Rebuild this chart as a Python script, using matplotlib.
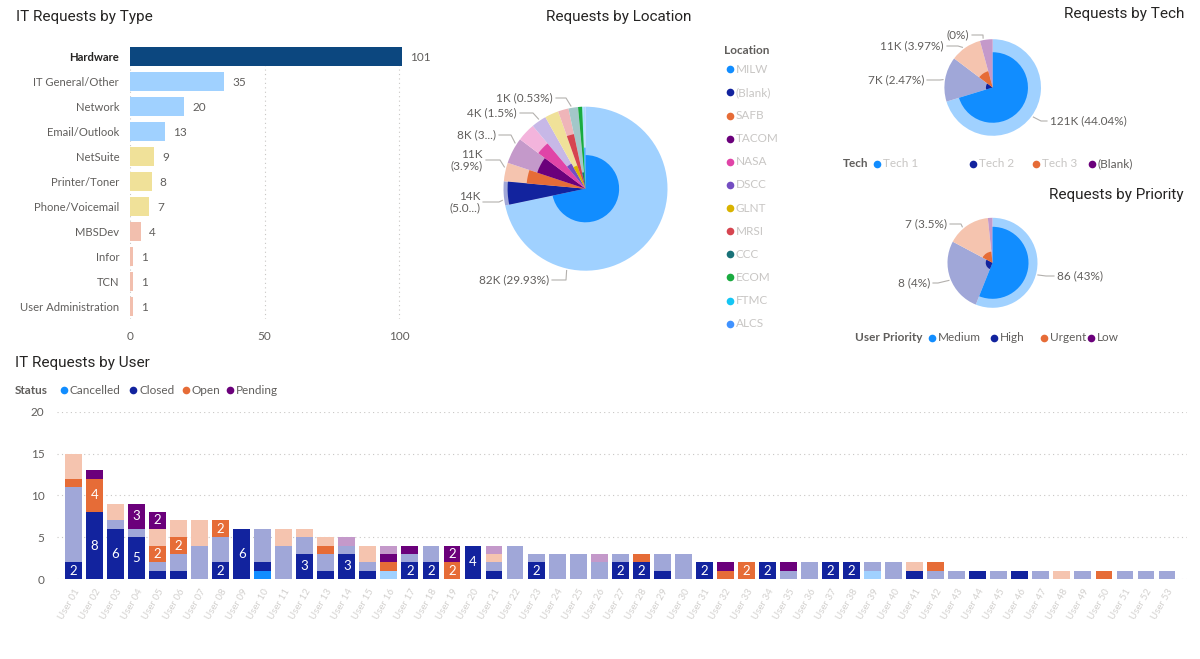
import numpy as np
import matplotlib.pyplot as plt
from matplotlib.patches import Wedge
from matplotlib.colors import to_rgb

plt.rcParams['font.family'] = ['Lato', 'DejaVu Sans']

W, H = 1200, 659

# Power BI default palette, faded = 40% on white (un-highlighted parts)
palette = ["#118DFF", "#12239E", "#E66C37", "#6B007B", "#E044A7", "#744EC2",
           "#D9B300", "#D64550", "#197278", "#1AAB40", "#15C6F4", "#4092FF"]

def fade(c, a=0.4):
    r, g, b = to_rgb(c)
    return (a*r + 1 - a, a*g + 1 - a, a*b + 1 - a)

# ---------------- data ----------------
type_names = ["Hardware", "IT General/Other", "Network", "Email/Outlook", "NetSuite",
              "Printer/Toner", "Phone/Voicemail", "MBSDev", "Infor", "TCN", "User Administration"]
type_counts = [101, 35, 20, 13, 9, 8, 7, 4, 1, 1, 1]
type_colors = ["#0C477F", "#A0D1FF", "#A0D1FF", "#A0D1FF", "#F0E199", "#F0E199",
               "#F0E199", "#F2BFAE", "#F2BFAE", "#F2BFAE", "#F2BFAE"]

loc_names = ["MILW", "(Blank)", "SAFB", "TACOM", "NASA", "DSCC", "GLNT", "MRSI",
             "CCC", "ECOM", "FTMC", "ALCS"]
loc_size = [258.2, 17.0, 13.2, 18.6, 13.0, 10.7, 9.8, 7.5, 6.8, 2.8, 1.2, 1.2]
loc_inner = [0.41, 0.95, 0.72, 0.62, 0.72, 0.35, 0.30, 0.68, 0.20, 1.0, 0.5, 0.5]
loc_labels = ["82K (29.93%)", "14K\n(5.0...)", "11K\n(3.9%)", "8K (3...)", "4K (1.5%)", "1K (0.53%)"]

tech_names = ["Tech 1", "Tech 2", "Tech 3", "(Blank)"]
tech_size = [253.0, 54.0, 37.7, 15.3]
tech_inner = [0.73, 0.14, 0.35, 0.0]
tech_labels = ["121K (44.04%)", "7K (2.47%)", "11K (3.97%)", "(0%)"]

prio_names = ["Medium", "High", "Urgent", "Low"]
prio_size = [201.8, 96.2, 56.0, 6.0]
prio_inner = [0.80, 0.15, 0.25, 0.0]
prio_labels = ["86 (43%)", "8 (4%)", "7 (3.5%)"]

status_names = ["Cancelled", "Closed", "Open", "Pending"]
cancelled_hl   = [0,0,0,0,0,0,0,0,0,1, 0,0,0,0,0,0,0,0,0,0, 0,0,0,0,0,0,0,0,0,0,
                  0,0,0,0,0,0,0,0,0,0, 0,0,0,0,0,0,0,0,0,0, 0,0,0]
cancelled_rest = [0,0,0,0,0,0,0,0,0,0, 0,0,0,0,0,1,0,0,0,0, 0,0,0,0,0,0,0,0,0,0,
                  0,0,0,0,0,0,0,0,1,0, 0,0,0,0,0,0,0,0,0,0, 0,0,0]
closed_hl      = [2,8,6,5,1,1,0,2,6,1, 0,3,1,3,1,0,2,2,0,4, 1,0,2,0,0,0,2,2,1,0,
                  2,0,0,2,0,0,2,2,0,0, 1,0,0,1,0,1,0,0,0,0, 0,0,0]
closed_rest    = [9,0,1,1,1,2,4,3,0,4, 4,2,2,1,1,0,1,2,0,0, 1,4,1,3,3,2,1,0,2,3,
                  0,0,0,0,1,2,0,0,1,2, 0,1,1,0,1,0,1,0,1,0, 1,1,1]
open_hl        = [1,4,0,0,2,2,0,2,0,0, 0,0,1,0,0,1,0,0,2,0, 0,0,0,0,0,0,0,1,0,0,
                  0,1,2,0,0,0,0,0,0,0, 0,1,0,0,0,0,0,0,0,1, 0,0,0]
open_rest      = [3,0,2,0,2,2,3,0,0,0, 2,1,1,0,2,0,0,0,0,0, 1,0,0,0,0,0,0,0,0,0,
                  0,0,0,0,0,0,0,0,0,0, 1,0,0,0,0,0,0,1,0,0, 0,0,0]
pending_hl     = [0,1,0,3,2,0,0,0,0,0, 0,0,0,0,0,1,1,0,2,0, 0,0,0,0,0,0,0,0,0,0,
                  0,1,0,0,1,0,0,0,0,0, 0,0,0,0,0,0,0,0,0,0, 0,0,0]
pending_rest   = [0,0,0,0,0,0,0,0,0,0, 0,0,0,1,0,1,0,0,0,0, 1,0,0,0,0,1,0,0,0,0,
                  0,0,0,0,0,0,0,0,0,0, 0,0,0,0,0,0,0,0,0,0, 0,0,0]
user_names = ["User %02d" % (i + 1) for i in range(len(closed_hl))]

# ---------------- style ----------------
TITLE = "#252423"
LABEL = "#605E5C"
GRID = "#C8C6C4"
LEAD = "#B3B0AD"
BLUR = "#C8C6C4"
TFONT = ['Roboto', 'DejaVu Sans']
DOT = 5.5

fig = plt.figure(figsize=(W / 100, H / 100), dpi=100)

def px_axes(x0, y0, x1, y1):
    return fig.add_axes([x0 / W, 1 - y1 / H, (x1 - x0) / W, (y1 - y0) / H])

# overlay in pixel coordinates for titles, legends, pie labels
ov = px_axes(0, 0, W, H)
ov.set_xlim(0, W)
ov.set_ylim(H, 0)
ov.axis('off')
ov.set_zorder(10)

def legend_item(x, y, name, color, tcolor=LABEL):
    ov.plot(x, y, 'o', ms=DOT, color=color, mew=0)
    ov.text(x + 6, y, name, fontsize=8.5, color=tcolor, va='center')

# ---------------- IT Requests by Type ----------------
ax1 = px_axes(130.3, 43.7, 425.9, 318.8)
y = np.arange(len(type_names))
ax1.barh(y, type_counts, height=0.77, color=type_colors)
for i, v in enumerate(type_counts):
    ax1.text(v + 3, i + 0.05, str(v), va='center', ha='left', fontsize=8.5, color=LABEL)
ax1.set_xlim(0, 110)
ax1.set_ylim(len(type_names) - 0.5, -0.5)
ax1.set_yticks(y, type_names)
ax1.set_xticks([0, 50, 100])
ax1.tick_params(length=0, labelsize=8.5, labelcolor=LABEL)
ax1.tick_params(axis='y', pad=8, labelsize=8.1)
ax1.tick_params(axis='x', pad=9)
ax1.get_yticklabels()[0].set_fontweight('bold')
ax1.get_yticklabels()[0].set_color(TITLE)
ax1.grid(axis='x', linestyle=(0, (1, 3)), color=GRID, lw=0.8)
ax1.set_axisbelow(True)
for s in ax1.spines.values():
    s.set_visible(False)
ov.text(16, 17, "IT Requests by Type", fontsize=11, color=TITLE, va='center', family=TFONT)

# ---------------- pies ----------------
def donut(cx, cy, r, sizes, inner, colors):
    side = 2.6 * r
    ax = px_axes(cx - side / 2, cy - side / 2, cx + side / 2, cy + side / 2)
    wedges, _ = ax.pie(sizes, colors=[fade(c) for c in colors], startangle=90,
                       counterclock=False, wedgeprops=dict(linewidth=0))
    for w, f, c in zip(wedges, inner, colors):
        if f > 0:
            ax.add_patch(Wedge((0, 0), f, w.theta1, w.theta2, color=c, lw=0))
    ax.set_xlim(-1.3, 1.3)
    ax.set_ylim(-1.3, 1.3)
    return ax

def pie_labels(cx, cy, r, labels, layout):
    for txt, (tx, ty, ha, ex, ang) in zip(labels, layout):
        ov.text(tx, ty, txt, ha=ha, va='center', fontsize=8.5, color=LABEL,
                multialignment='right' if ha == 'right' else 'left', linespacing=1.1)
        sx = tx + 3 if ha == 'right' else tx - 3
        a = np.radians(ang)
        axp = cx + (r + 2) * np.sin(a)
        ayp = cy - (r + 2) * np.cos(a)
        ov.plot([sx, ex, axp], [ty, ty, ayp], color=LEAD, lw=0.8)

# Requests by Location
loc_c = (585.5, 188.7, 82)
donut(*loc_c, loc_size, loc_inner, palette)
pie_labels(*loc_c, loc_labels, [(549, 280, 'right', 566, 193),
                                (480, 202, 'right', 499, 262),
                                (483, 160, 'right', 500, 285),
                                (496, 135, 'right', 511, 303),
                                (517, 113, 'right', 533, 326),
                                (553, 98, 'right', 566, 350)])
ov.text(619, 17, "Requests by Location", fontsize=11, color=TITLE, ha='center', va='center', family=TFONT)
ov.text(724, 50, "Location", fontsize=8.5, fontweight='bold', color=LABEL, va='center')
for i, (nm, c) in enumerate(zip(loc_names, palette)):
    legend_item(729.5, 69.3 + i * 23.13, nm, c, BLUR)

# Requests by Tech
tech_c = (992.7, 87.5, 48.3)
donut(*tech_c, tech_size, tech_inner, palette[:4])
pie_labels(*tech_c, tech_labels, [(1050, 121, 'left', 1041, 126),
                                  (924, 80, 'right', 940, 279),
                                  (944, 46, 'right', 958, 323),
                                  (969, 35, 'right', 983, 349)])
ov.text(1184, 14, "Requests by Tech", fontsize=11, color=TITLE, ha='right', va='center', family=TFONT)
ov.text(843, 163.5, "Tech", fontsize=8.5, fontweight='bold', color=LABEL, va='center')
for nm, c, x in zip(tech_names, palette[:4], [877, 973, 1036, 1092]):
    legend_item(x, 163.5, nm, c, LABEL if nm == "(Blank)" else BLUR)

# Requests by Priority
prio_c = (992.5, 262.8, 45)
donut(*prio_c, prio_size, prio_inner, palette[:4])
pie_labels(*prio_c, prio_labels, [(1057, 276, 'left', 1046, 105),
                                  (930, 283, 'right', 938, 248),
                                  (947, 224, 'right', 961, 320)])
ov.text(1184, 195, "Requests by Priority", fontsize=11, color=TITLE, ha='right', va='center', family=TFONT)
ov.text(855, 337.5, "User Priority", fontsize=8.5, fontweight='bold', color=LABEL, va='center')
for nm, c, x in zip(prio_names, palette[:4], [932, 993.5, 1044, 1091]):
    legend_item(x, 337.5, nm, c)

# ---------------- IT Requests by User ----------------
ax2 = px_axes(57, 411.7, 1187, 579)
x = np.arange(len(closed_hl))
series = [(cancelled_hl, palette[0], True), (cancelled_rest, fade(palette[0]), False),
          (closed_hl, palette[1], True), (closed_rest, fade(palette[1]), False),
          (open_hl, palette[2], True), (open_rest, fade(palette[2]), False),
          (pending_hl, palette[3], True), (pending_rest, fade(palette[3]), False)]
bottom = np.zeros(len(x))
for vals, c, hl in series:
    vals = np.array(vals, dtype=float)
    ax2.bar(x, vals, bottom=bottom, width=0.8, color=c, lw=0)
    if hl:
        for xi, v, b in zip(x, vals, bottom):
            if v >= 2:
                ax2.text(xi, b + v / 2, "%d" % v, ha='center', va='center',
                         color='white', fontsize=9.5)
    bottom += vals
ax2.set_xlim(-0.78, len(x) - 0.05)
ax2.set_ylim(0, 20)
ax2.set_yticks([0, 5, 10, 15, 20])
ax2.set_xticks(x, user_names, rotation=60, ha='right', rotation_mode='anchor')
ax2.tick_params(axis='x', length=0, labelsize=7, labelcolor="#D2D0CE", pad=6)
ax2.tick_params(axis='y', length=0, labelsize=8.5, labelcolor=LABEL, pad=9)
ax2.grid(axis='y', linestyle=(0, (1, 3)), color=GRID, lw=0.8)
ax2.set_axisbelow(True)
for s in ax2.spines.values():
    s.set_visible(False)

ov.text(15, 363, "IT Requests by User", fontsize=11, color=TITLE, va='center', family=TFONT)
ov.text(15, 390, "Status", fontsize=8.5, fontweight='bold', color=LABEL, va='center')
for nm, c, xx in zip(status_names, palette[:4], [64, 133, 186, 230]):
    legend_item(xx, 390, nm, c)

fig.savefig("out.png", dpi=100)
